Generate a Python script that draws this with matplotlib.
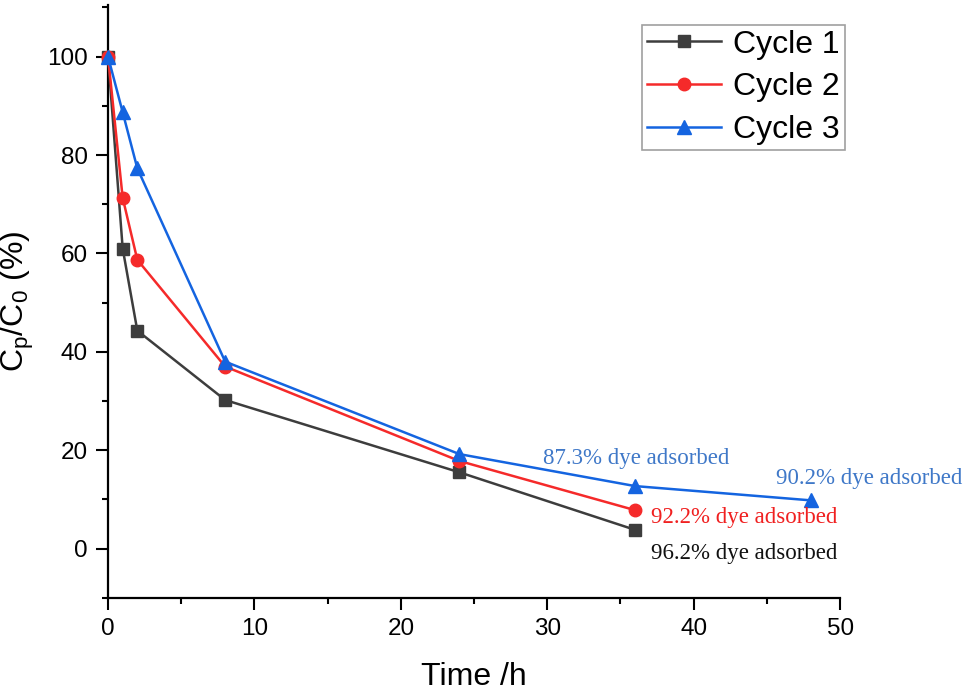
import matplotlib
matplotlib.use("Agg")
import matplotlib.pyplot as plt
from matplotlib.ticker import MultipleLocator

# Data
time_c1 = [0, 1, 2, 8, 24, 36]
cycle1 = [100, 61.0, 44.3, 30.2, 15.5, 3.8]
time_c2 = [0, 1, 2, 8, 24, 36]
cycle2 = [100, 71.3, 58.7, 37.0, 17.8, 7.8]
time_c3 = [0, 1, 2, 8, 24, 36, 48]
cycle3 = [100, 88.7, 77.3, 38.0, 19.2, 12.7, 9.8]
labels = ["Cycle 1", "Cycle 2", "Cycle 3"]
notes = ["87.3% dye adsorbed", "90.2% dye adsorbed", "92.2% dye adsorbed", "96.2% dye adsorbed"]
note_pos = [(29.7, 18.4), (45.6, 14.2), (37.1, 6.4), (37.1, -1.0)]

plt.rcParams['font.family'] = ['Liberation Sans', 'DejaVu Sans']

fig = plt.figure(figsize=(9.69, 6.90), dpi=100)
ax = fig.add_axes([0.1115, 0.1337, 0.7555, 0.8590])

c_black = '#3d3d3d'
c_red = '#f52a2a'
c_blue = '#1464e0'

ax.plot(time_c1, cycle1, '-s', color=c_black, lw=1.8, ms=8, label=labels[0], clip_on=False, zorder=3)
ax.plot(time_c2, cycle2, '-o', color=c_red, lw=1.8, ms=9, label=labels[1], clip_on=False, zorder=3)
ax.plot(time_c3, cycle3, '-^', color=c_blue, lw=1.8, ms=9.5, label=labels[2], clip_on=False, zorder=3)

ax.set_xlim(0, 50)
ax.set_ylim(-10, 110.5)
ax.xaxis.set_major_locator(MultipleLocator(10))
ax.xaxis.set_minor_locator(MultipleLocator(5))
ax.set_yticks([0, 20, 40, 60, 80, 100])
ax.yaxis.set_minor_locator(MultipleLocator(10))

for s in ['top', 'right']:
    ax.spines[s].set_visible(False)
for s in ['left', 'bottom']:
    ax.spines[s].set_linewidth(1.6)

ax.tick_params(which='major', direction='out', length=8.5, width=1.5, labelsize=17.5, pad=6)
ax.tick_params(which='minor', direction='out', length=4.5, width=1.5)

ax.set_xlabel('Time /h', fontsize=23)
ax.set_ylabel(r'C$_\mathregular{p}$/C$_\mathregular{0}$ (%)', fontsize=23)
ax.xaxis.set_label_coords(0.5, -0.108)
ax.yaxis.set_label_coords(-0.098, 0.5)

note_colors = ['#3f78c8', '#3f78c8', '#f02020', '#111111']
for t, (x, y), c in zip(notes, note_pos, note_colors):
    ax.text(x, y, t, color=c, fontsize=16.5, family=['Liberation Serif', 'DejaVu Serif'],
            ha='left', va='center', clip_on=False)

leg = ax.legend(loc='upper right', bbox_to_anchor=(0.872, 0.964), bbox_transform=fig.transFigure,
                fontsize=23, frameon=True, fancybox=False, edgecolor='#888888',
                handlelength=2.3, handletextpad=0.4, borderpad=0.15, labelspacing=0.4,
                borderaxespad=0)
leg.get_frame().set_linewidth(1.2)

fig.savefig('out.png', dpi=100)
